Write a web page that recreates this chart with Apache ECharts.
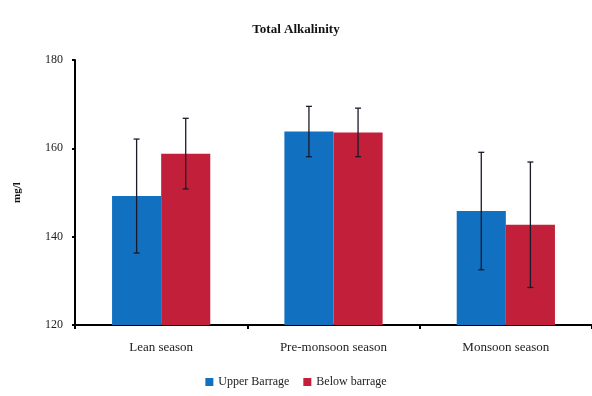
<!DOCTYPE html>
<html><head><meta charset="utf-8">
<script src="https://cdn.jsdelivr.net/npm/echarts@6/dist/echarts.min.js"></script>
<style>html,body{margin:0;padding:0;background:#fff}#c{width:592px;height:396px}</style>
</head><body><div id="c"></div>
<script>
const categories = ['Lean season', 'Pre-monsoon season', 'Monsoon season'];
const upperMean = [149.2, 163.8, 145.8];
const upperErr = [12.9, 5.7, 13.3];
const belowMean = [158.8, 163.6, 142.7];
const belowErr = [8.0, 5.5, 14.2];
const seriesNames = ['Upper Barrage', 'Below barrage'];
const yTicks = [120, 140, 160, 180];

const font = '"Liberation Serif", "DejaVu Serif", serif';
const chart = echarts.init(document.getElementById('c'));

function errSeries(means, errs, idx) {
  const data = means.map((m, i) => [i, m - errs[i], m + errs[i]]);
  return {
    type: 'custom',
    name: seriesNames[idx] + ' err',
    z: 10,
    renderItem: function (params, api) {
      const xi = api.value(0);
      const lo = api.coord([xi, api.value(1)]);
      const hi = api.coord([xi, api.value(2)]);
      const bw = api.size([1, 0])[0];
      const barW = bw * 0.285;
      const off = idx === 0 ? -barW / 2 : barW / 2;
      const x = lo[0] + off;
      const cap = 3;
      const style = { stroke: '#1a1a2a', lineWidth: 1.3 };
      return {
        type: 'group',
        children: [
          { type: 'line', shape: { x1: x, y1: lo[1], x2: x, y2: hi[1] }, style: style },
          { type: 'line', shape: { x1: x - cap, y1: lo[1], x2: x + cap, y2: lo[1] }, style: style },
          { type: 'line', shape: { x1: x - cap, y1: hi[1], x2: x + cap, y2: hi[1] }, style: style }
        ]
      };
    },
    data: data,
    silent: true
  };
}

chart.setOption({
  animation: false,
  backgroundColor: '#fff',
  title: {
    text: 'Total Alkalinity',
    left: 'center', top: 18,
    textStyle: { fontFamily: font, fontWeight: 'bold', fontSize: 13, color: '#111' }
  },
  legend: {
    bottom: 3, left: 'center',
    data: seriesNames,
    icon: 'rect', itemWidth: 8, itemHeight: 8, itemGap: 14,
    textStyle: { fontFamily: font, fontSize: 12, color: '#222' }
  },
  grid: { left: 75, right: 0, top: 60, bottom: 71 },
  xAxis: {
    type: 'category',
    data: categories,
    axisLine: { lineStyle: { color: '#000', width: 2 } },
    axisTick: { show: true, length: 4, lineStyle: { color: '#000', width: 2 } },
    axisLabel: { fontFamily: font, fontSize: 13, color: '#222', margin: 16 }
  },
  yAxis: {
    type: 'value',
    min: yTicks[0], max: yTicks[yTicks.length - 1], interval: 20,
    name: 'mg/l', nameLocation: 'middle', nameGap: 52, nameRotate: 90,
    nameTextStyle: { fontFamily: font, fontWeight: 'bold', fontSize: 11, color: '#111' },
    axisLine: { show: true, lineStyle: { color: '#000', width: 2 } },
    axisTick: { show: true, length: 3, lineStyle: { color: '#000', width: 2 } },
    axisLabel: { fontFamily: font, fontSize: 12, color: '#222', margin: 12 },
    splitLine: { show: false }
  },
  series: [
    { type: 'bar', name: seriesNames[0], data: upperMean, itemStyle: { color: '#1170c0' },
      barGap: '0%', barCategoryGap: '43%' },
    { type: 'bar', name: seriesNames[1], data: belowMean, itemStyle: { color: '#c2203a' } },
    errSeries(upperMean, upperErr, 0),
    errSeries(belowMean, belowErr, 1)
  ]
});
</script></body></html>
